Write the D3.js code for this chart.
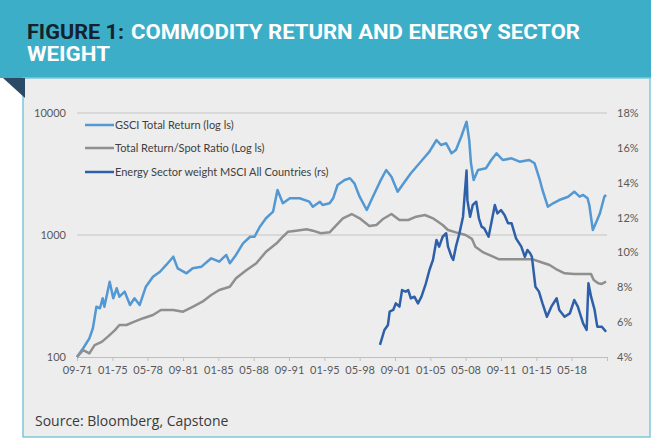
<!DOCTYPE html>
<html><head><meta charset="utf-8">
<script src="https://cdn.jsdelivr.net/npm/d3@7"></script>
<style>html,body{margin:0;padding:0;background:#fff;}svg{display:block}</style>
</head><body><svg id="c" width="654" height="442"></svg>
<script>
// ---------- data ----------
const gsciDates = ["1971-09","1972-04","1972-11","1973-03","1973-07","1973-11","1974-02","1974-04","1974-10","1975-02","1975-06","1975-09","1976-03","1976-09","1977-02","1977-08","1978-03","1978-11","1979-07","1980-02","1980-10","1981-03","1982-01","1982-08","1983-06","1984-05","1985-02","1985-10","1986-02","1986-09","1987-05","1988-01","1988-06","1988-12","1989-07","1990-03","1990-08","1991-02","1991-10","1992-09","1993-08","1993-12","1994-08","1994-11","1995-07","1995-11","1996-04","1996-12","1997-06","1997-11","1998-05","1999-01","1999-08","2000-04","2000-11","2001-05","2001-12","2002-08","2003-03","2003-11","2004-07","2004-12","2005-08","2006-01","2006-07","2007-01","2007-06","2007-12","2008-06","2008-09","2008-11","2009-02","2009-07","2010-04","2010-10","2011-04","2011-11","2012-09","2013-06","2014-05","2014-11","2015-05","2015-08","2016-02","2016-08","2017-03","2018-01","2018-08","2019-02","2019-06","2019-11","2020-01","2020-05","2020-09","2021-01","2021-06","2021-08"];
const gsciValues = [100,118,142,172,258,251,303,258,414,303,366,312,343,267,303,267,377,455,500,568,664,533,485,533,550,644,604,686,586,686,855,968,968,1169,1371,1553,2338,1819,2000,2000,1875,1706,1875,1762,1819,2000,2570,2825,2917,2653,2060,1603,2060,2735,3411,3005,2264,2735,3205,3748,4384,4819,6005,5466,5646,4674,4973,6391,8487,6005,3870,2825,3411,3523,4118,4674,4118,4253,3990,4118,3870,2825,2338,1706,1819,1935,2060,2264,2060,2128,2000,1762,1099,1285,1506,2060,2128];

const ratioDates = ["1971-09","1972-04","1972-11","1973-05","1974-01","1974-08","1975-04","1975-09","1976-05","1977-02","1977-12","1978-11","1979-08","1980-10","1981-09","1982-08","1983-07","1984-05","1985-02","1986-02","1986-09","1987-09","1988-08","1989-07","1990-07","1991-02","1991-08","1992-05","1993-05","1993-12","1994-09","1995-07","1996-03","1996-10","1997-08","1998-05","1999-04","1999-12","2000-07","2001-05","2002-02","2002-12","2003-09","2004-07","2005-04","2006-03","2006-09","2007-06","2008-05","2008-12","2009-04","2010-01","2010-12","2011-07","2014-09","2015-05","2016-04","2017-01","2017-09","2018-08","2020-03","2020-06","2020-11","2021-03","2021-08"];
const ratioValues = [100,114,107,125,133,147,166,183,183,195,208,221,243,243,235,258,284,322,354,377,442,517,586,729,855,968,1064,1085,1113,1085,1033,1052,1208,1371,1486,1371,1185,1208,1345,1486,1327,1327,1413,1459,1371,1208,1099,1050,1000,930,802,720,664,632,632,604,568,517,485,478,478,428,402,397,414];

const energyDates = ["2000-04","2000-09","2001-01","2001-03","2001-07","2001-10","2002-02","2002-05","2002-09","2002-12","2003-03","2003-07","2003-11","2004-03","2004-08","2004-12","2005-04","2005-08","2005-11","2006-03","2006-07","2006-09","2007-01","2007-03","2007-06","2007-10","2008-02","2008-06","2008-07","2008-10","2009-01","2009-05","2009-08","2009-11","2010-02","2010-07","2010-10","2011-02","2011-05","2011-09","2012-01","2012-05","2012-09","2013-02","2013-08","2013-12","2014-03","2014-06","2014-08","2014-12","2015-04","2015-08","2016-01","2016-06","2016-12","2017-03","2017-09","2018-03","2018-08","2018-12","2019-06","2019-10","2019-12","2020-03","2020-07","2020-10","2021-03","2021-08"];
const energyValues = [4.7,5.55,5.84,6.6,6.7,7.08,6.89,7.84,7.75,7.84,7.37,7.46,7.08,7.46,8.23,8.99,9.57,10.71,10.33,10.9,11.1,10.33,9.75,9.57,10.33,11.1,12.05,14.7,13.0,12.05,12.72,12.91,11.96,11.48,11.38,10.9,11.67,12.72,12.24,12.43,12.15,11.67,11.67,10.81,10.33,9.75,10.14,9.95,9.75,8.03,7.75,7.08,6.31,6.89,7.37,6.7,6.31,6.5,7.27,6.89,5.93,5.55,8.23,7.46,6.7,5.74,5.74,5.45];

const xTickLabels = ["09-71","01-75","05-78","09-81","01-85","05-88","09-91","01-95","05-98","09-01","01-05","05-08","09-11","01-15","05-18"];
const leftTicks = [100, 1000, 10000];
const rightTicks = [4, 6, 8, 10, 12, 14, 16, 18];
const seriesNames = ["GSCI Total Return (log ls)", "Total  Return/Spot Ratio (Log ls)", "Energy Sector weight MSCI All Countries (rs)"];
const seriesColors = ["#5398d2", "#8f8f8f", "#2e60a9"];

// ---------- drawing ----------
const svg = d3.select("#c");
const parseYM = d3.timeParse("%Y-%m");
const parseTick = d3.timeParse("%m-%y");

// header
svg.append("rect").attr("x", 0).attr("y", 0).attr("width", 651).attr("height", 78).attr("fill", "#3caec8");
svg.append("rect").attr("x", 23).attr("y", 78).attr("width", 627).attr("height", 359)
  .attr("fill", "#ededed").attr("stroke", "#7cc8d9").attr("stroke-width", 1.5);
svg.append("path").attr("d", "M3,78 L25,78 L25,98 Z").attr("fill", "#2b4a66");

const titleFont = "Roboto, 'DejaVu Sans', sans-serif";
svg.append("text").attr("x", 27).attr("y", 39).attr("font-family", titleFont).attr("font-weight", 700)
  .attr("font-size", 20).attr("fill", "#15222e").attr("textLength", 97).attr("lengthAdjust", "spacingAndGlyphs").text("FIGURE 1:");
svg.append("text").attr("x", 131).attr("y", 39).attr("font-family", titleFont).attr("font-weight", 700)
  .attr("font-size", 20).attr("fill", "#ffffff").attr("textLength", 449).attr("lengthAdjust", "spacingAndGlyphs").text("COMMODITY RETURN AND ENERGY SECTOR");
svg.append("text").attr("x", 27).attr("y", 61).attr("font-family", titleFont).attr("font-weight", 700)
  .attr("font-size", 20).attr("fill", "#ffffff").attr("textLength", 83).attr("lengthAdjust", "spacingAndGlyphs").text("WEIGHT");

// scales
const x = d3.scaleTime().domain([parseYM("1971-09"), parseYM("2021-09")]).range([77, 607]);
const yL = d3.scaleLog().domain([100, 10000]).range([357, 113]);
const yR = d3.scaleLinear().domain([4, 18]).range([357, 113]);

const tickFont = "Lato, 'Open Sans', sans-serif";

// gridlines
const grid = svg.append("g");
grid.selectAll("line").data(leftTicks.filter(d => d > 100)).join("line")
  .attr("x1", 77).attr("x2", 607).attr("y1", d => yL(d)).attr("y2", d => yL(d))
  .attr("stroke", "#c4c4c4").attr("stroke-width", 1);

// x axis
const xTicks = xTickLabels.map(parseTick).concat([parseYM("2021-09")]);
const xAxis = d3.axisBottom(x).tickValues(xTicks).tickSize(4).tickSizeOuter(0)
  .tickFormat((d, i) => i < xTickLabels.length ? xTickLabels[i] : "");
const gx = svg.append("g").attr("transform", "translate(0,357)").call(xAxis);
gx.select(".domain").attr("stroke", "#bfbfbf");
gx.selectAll(".tick line").attr("stroke", "#bfbfbf");
gx.selectAll(".tick text").attr("font-family", tickFont).attr("font-size", 11).attr("fill", "#595959").attr("dy", "0.75em").attr("y", 9);

// left axis
const gl = svg.append("g").attr("transform", "translate(66,0)")
  .call(d3.axisLeft(yL).tickValues(leftTicks).tickSize(0).tickFormat(d3.format("d")));
gl.select(".domain").remove();
gl.selectAll(".tick text").attr("font-family", tickFont).attr("font-size", 11).attr("fill", "#595959").attr("x", 0);

// right axis
const gr = svg.append("g").attr("transform", "translate(617,0)")
  .call(d3.axisRight(yR).tickValues(rightTicks).tickSize(0).tickFormat(d => d + "%"));
gr.select(".domain").remove();
gr.selectAll(".tick text").attr("font-family", tickFont).attr("font-size", 11).attr("fill", "#595959").attr("x", 0);

// lines
const lineL = d3.line().x(d => x(d.date)).y(d => yL(d.v));
const lineR = d3.line().x(d => x(d.date)).y(d => yR(d.v));
const gsci = gsciDates.map((d, i) => ({date: parseYM(d), v: gsciValues[i]}));
const ratio = ratioDates.map((d, i) => ({date: parseYM(d), v: ratioValues[i]}));
const energy = energyDates.map((d, i) => ({date: parseYM(d), v: energyValues[i]}));

svg.append("path").datum(gsci).attr("d", lineL).attr("fill", "none").attr("stroke", seriesColors[0]).attr("stroke-width", 2.5).attr("stroke-linejoin", "round");
svg.append("path").datum(ratio).attr("d", lineL).attr("fill", "none").attr("stroke", seriesColors[1]).attr("stroke-width", 2.5).attr("stroke-linejoin", "round");
svg.append("path").datum(energy).attr("d", lineR).attr("fill", "none").attr("stroke", seriesColors[2]).attr("stroke-width", 2.5).attr("stroke-linejoin", "round");

// legend
const leg = svg.append("g");
const legY = [125, 148, 172];
seriesNames.forEach((name, i) => {
  leg.append("line").attr("x1", 85).attr("x2", 114).attr("y1", legY[i]).attr("y2", legY[i])
    .attr("stroke", seriesColors[i]).attr("stroke-width", 2.5);
  leg.append("text").attr("x", 115).attr("y", legY[i]).attr("dy", "0.35em")
    .attr("font-family", tickFont).attr("font-size", 11).attr("fill", "#404040").text(name);
});

// source
svg.append("text").attr("x", 35).attr("y", 426).attr("font-family", "'Open Sans', sans-serif")
  .attr("font-size", 14).attr("fill", "#3a3a3a").text("Source: Bloomberg, Capstone");
</script>
</body></html>
